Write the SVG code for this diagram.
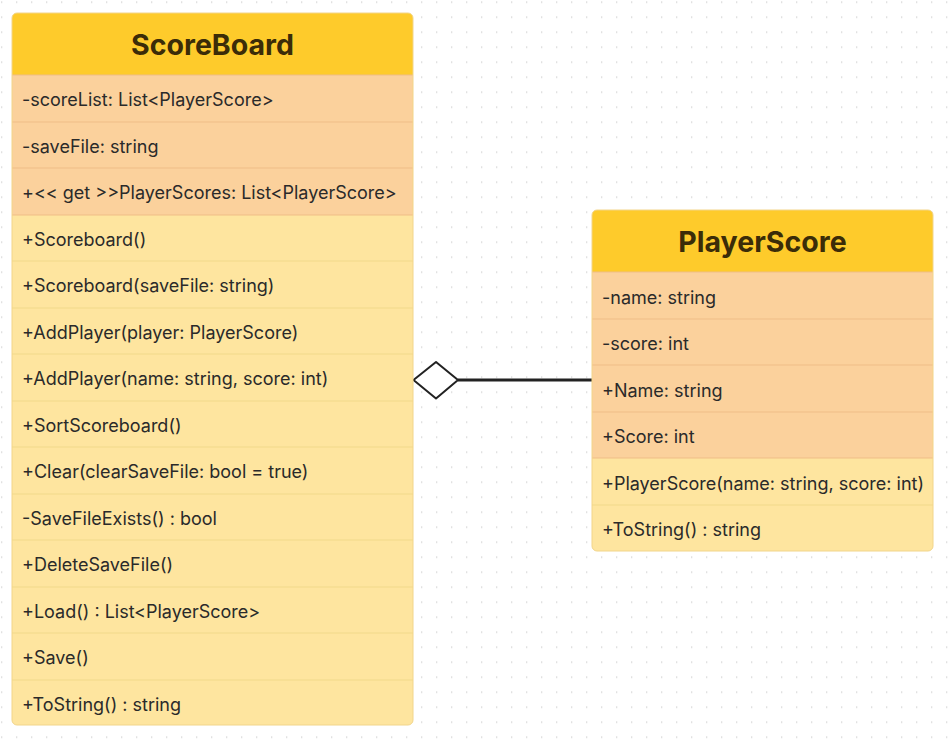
<svg xmlns="http://www.w3.org/2000/svg" width="951" height="743" viewBox="0 0 951 743">
<defs>
<pattern id="dots" x="1" y="1.5" width="15" height="15" patternUnits="userSpaceOnUse">
<rect x="0" y="0" width="1.3" height="1.3" fill="#d0d0d0"/>
</pattern>
<clipPath id="c1"><rect x="12" y="13" width="401" height="712" rx="5"/></clipPath>
<clipPath id="c2"><rect x="592" y="210" width="341" height="341" rx="5"/></clipPath>
</defs>
<style>
.title{font-family:Inter,"Liberation Sans",sans-serif;font-weight:700;font-size:28.5px;fill:#3b2c08;text-anchor:middle}
.row{font-family:Inter,"Liberation Sans",sans-serif;font-size:18px;fill:#2a2a2a}
.hdr{fill:#fecb2b}
.attr{fill:#fbd19c}
.meth{fill:#fee59f}
.sep1{stroke:#efbd87;stroke-width:1}
.sep2{stroke:#f1d98a;stroke-width:1}
.frame{fill:none;stroke:#f2d58a;stroke-width:1}
</style>
<rect width="951" height="743" fill="#ffffff"/>
<rect width="951" height="743" fill="url(#dots)"/>
<g id="connectors">
<line x1="458" y1="380" x2="592" y2="380" stroke="#222" stroke-width="3"/>
<polygon points="413.5,380 436,362 458,380 436,398.5" fill="#ffffff" stroke="#222" stroke-width="2" stroke-linejoin="round"/>
</g>
<g id="ScoreBoard">
<g clip-path="url(#c1)">
<rect class="hdr" x="12" y="13" width="401" height="62"/>
<rect class="attr" x="12" y="75" width="401" height="140"/>
<rect class="meth" x="12" y="215" width="401" height="510"/>
<line class="sep1" x1="12" y1="75" x2="413" y2="75"/>
<line class="sep1" x1="12" y1="122" x2="413" y2="122"/>
<line class="sep1" x1="12" y1="168" x2="413" y2="168"/>
<line class="sep1" x1="12" y1="215" x2="413" y2="215"/>
<line class="sep2" x1="12" y1="261" x2="413" y2="261"/>
<line class="sep2" x1="12" y1="308" x2="413" y2="308"/>
<line class="sep2" x1="12" y1="354" x2="413" y2="354"/>
<line class="sep2" x1="12" y1="401" x2="413" y2="401"/>
<line class="sep2" x1="12" y1="447" x2="413" y2="447"/>
<line class="sep2" x1="12" y1="494" x2="413" y2="494"/>
<line class="sep2" x1="12" y1="540" x2="413" y2="540"/>
<line class="sep2" x1="12" y1="587" x2="413" y2="587"/>
<line class="sep2" x1="12" y1="633" x2="413" y2="633"/>
<line class="sep2" x1="12" y1="680" x2="413" y2="680"/>
</g>
<rect class="frame" x="12" y="13" width="401" height="712" rx="5"/>
<text class="title" x="212.5" y="55">ScoreBoard</text>
<text class="row" x="22" y="106">-scoreList: List&lt;PlayerScore&gt;</text>
<text class="row" x="22" y="153">-saveFile: string</text>
<text class="row" x="22" y="199">+&lt;&lt; get &gt;&gt;PlayerScores: List&lt;PlayerScore&gt;</text>
<text class="row" x="22" y="246">+Scoreboard()</text>
<text class="row" x="22" y="292">+Scoreboard(saveFile: string)</text>
<text class="row" x="22" y="339">+AddPlayer(player: PlayerScore)</text>
<text class="row" x="22" y="385">+AddPlayer(name: string, score: int)</text>
<text class="row" x="22" y="432">+SortScoreboard()</text>
<text class="row" x="22" y="478">+Clear(clearSaveFile: bool = true)</text>
<text class="row" x="22" y="525">-SaveFileExists() : bool</text>
<text class="row" x="22" y="571">+DeleteSaveFile()</text>
<text class="row" x="22" y="618">+Load() : List&lt;PlayerScore&gt;</text>
<text class="row" x="22" y="664">+Save()</text>
<text class="row" x="22" y="711">+ToString() : string</text>
</g>
<g id="PlayerScore">
<g clip-path="url(#c2)">
<rect class="hdr" x="592" y="210" width="341" height="62"/>
<rect class="attr" x="592" y="272" width="341" height="186"/>
<rect class="meth" x="592" y="458" width="341" height="93"/>
<line class="sep1" x1="592" y1="272" x2="933" y2="272"/>
<line class="sep1" x1="592" y1="319" x2="933" y2="319"/>
<line class="sep1" x1="592" y1="365" x2="933" y2="365"/>
<line class="sep1" x1="592" y1="412" x2="933" y2="412"/>
<line class="sep1" x1="592" y1="458" x2="933" y2="458"/>
<line class="sep2" x1="592" y1="505" x2="933" y2="505"/>
</g>
<rect class="frame" x="592" y="210" width="341" height="341" rx="5"/>
<text class="title" x="762.5" y="252">PlayerScore</text>
<text class="row" x="602" y="304">-name: string</text>
<text class="row" x="602" y="350">-score: int</text>
<text class="row" x="602" y="397">+Name: string</text>
<text class="row" x="602" y="443">+Score: int</text>
<text class="row" x="602" y="490">+PlayerScore(name: string, score: int)</text>
<text class="row" x="602" y="536">+ToString() : string</text>
</g>
</svg>
